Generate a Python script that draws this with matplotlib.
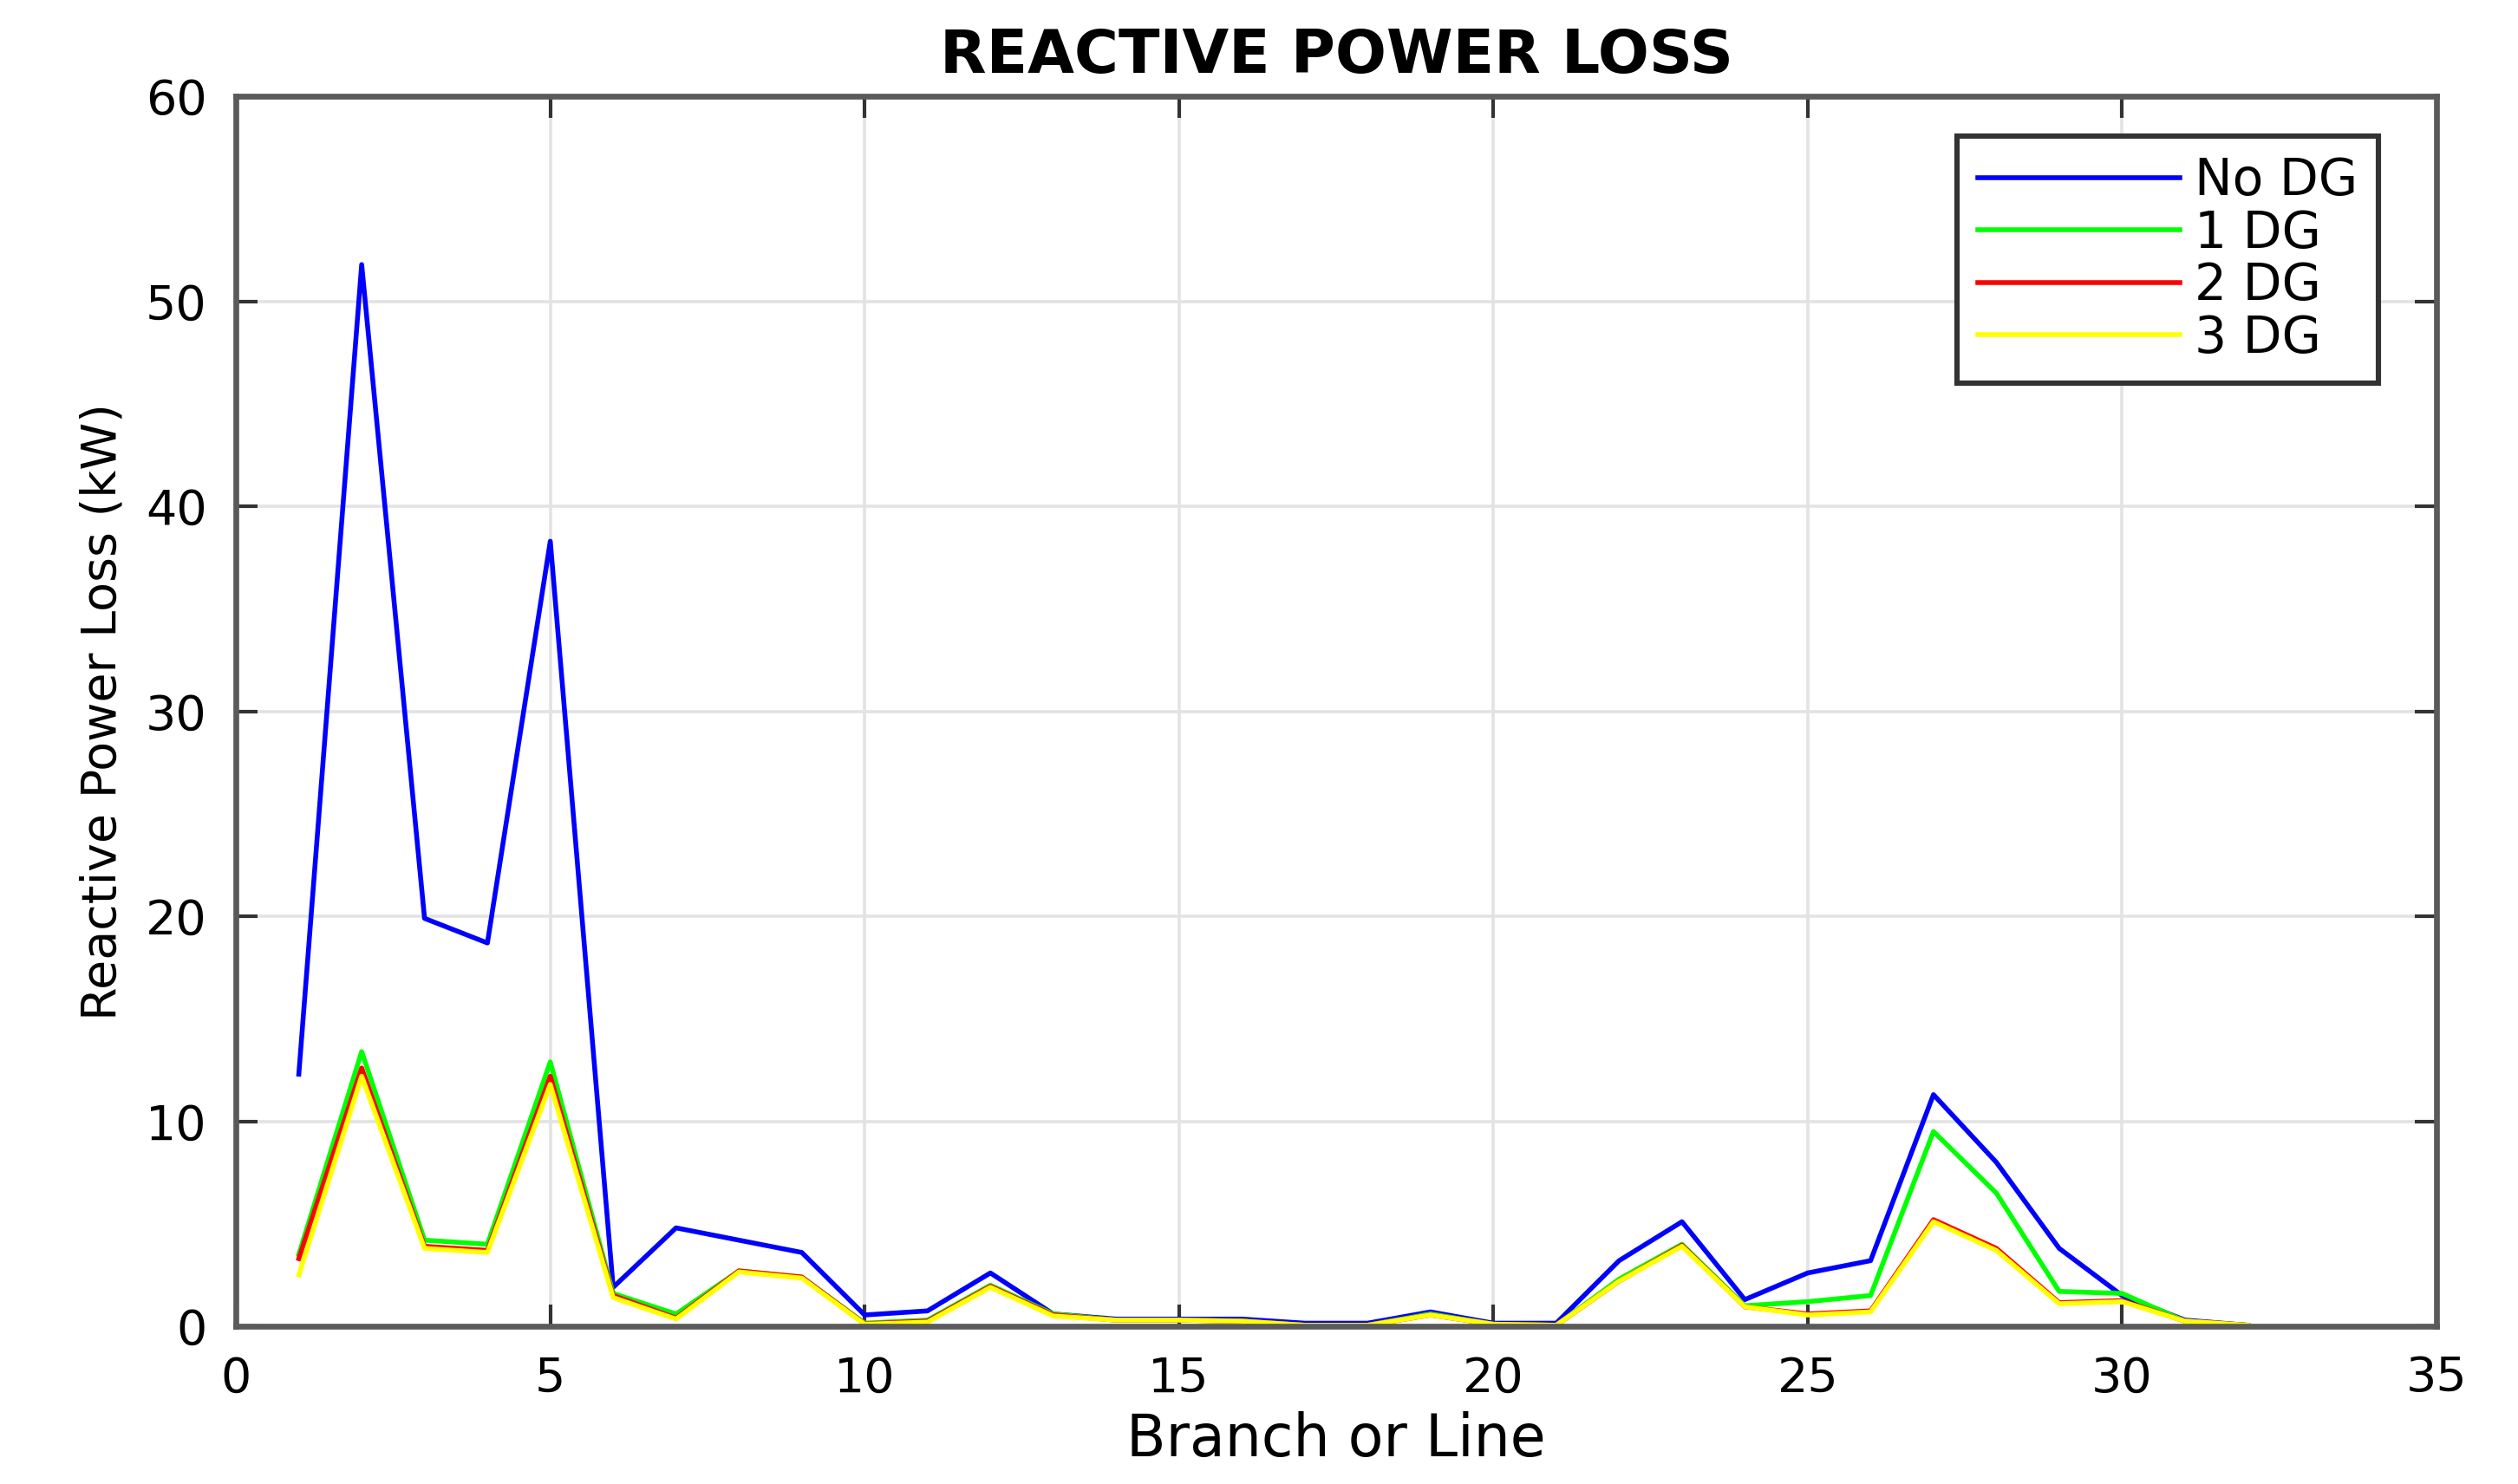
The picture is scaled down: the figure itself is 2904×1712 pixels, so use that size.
import numpy as np
from matplotlib import pyplot as plt

# Branch numbers and reactive power loss (kW) per case
branches = np.arange(1, 33)
no_dg = [12.3, 51.8, 19.9, 18.7, 38.3, 1.9, 4.8, 4.2, 3.6, 0.55, 0.75, 2.6, 0.6, 0.35, 0.35, 0.35,
         0.15, 0.15, 0.7, 0.15, 0.15, 3.2, 5.1, 1.3, 2.6, 3.2, 11.3, 8.0, 3.8, 1.5, 0.3, 0.05]
one_dg = [3.5, 13.4, 4.2, 4.0, 12.9, 1.6, 0.6, 2.7, 2.4, 0.15, 0.3, 2.0, 0.6, 0.3, 0.3, 0.25,
          0.05, 0.05, 0.6, 0.1, 0.05, 2.3, 4.0, 1.0, 1.2, 1.5, 9.5, 6.5, 1.7, 1.6, 0.25, 0.05]
two_dg = [3.3, 12.6, 3.9, 3.7, 12.2, 1.5, 0.4, 2.7, 2.4, 0.12, 0.25, 1.95, 0.55, 0.3, 0.3, 0.25,
          0.05, 0.05, 0.55, 0.1, 0.05, 2.2, 3.95, 0.95, 0.6, 0.75, 5.2, 3.8, 1.15, 1.25, 0.25, 0.05]
three_dg = [2.5, 12.2, 3.8, 3.6, 11.8, 1.4, 0.35, 2.65, 2.35, 0.1, 0.2, 1.9, 0.5, 0.3, 0.3, 0.25,
            0.05, 0.05, 0.55, 0.1, 0.05, 2.2, 3.9, 0.95, 0.55, 0.7, 5.1, 3.7, 1.1, 1.2, 0.25, 0.05]

x_ticks = [0, 5, 10, 15, 20, 25, 30, 35]
y_ticks = [0, 10, 20, 30, 40, 50, 60]

plt.rcParams['font.family'] = ['DejaVu Sans']

fig = plt.figure(figsize=(14.52, 8.56), dpi=200)
ax = fig.add_axes([0.0937, 0.1063, 0.8739, 0.8287])

ax.plot(branches, no_dg, color='#0000ff', linewidth=2.0, label='No DG')
ax.plot(branches, one_dg, color='#00ff00', linewidth=2.0, label='1 DG')
ax.plot(branches, two_dg, color='#ff0000', linewidth=2.0, label='2 DG')
ax.plot(branches, three_dg, color='#ffff00', linewidth=2.0, label='3 DG')

ax.set_xlim(0, 35)
ax.set_ylim(0, 60)
ax.set_xticks(x_ticks)
ax.set_yticks(y_ticks)
ax.grid(True, color='#e3e3e3', linewidth=1.3)
ax.set_axisbelow(True)

for side in ['left', 'right', 'top', 'bottom']:
    ax.spines[side].set_color('#5a5a5a')
    ax.spines[side].set_linewidth(2.4)
ax.tick_params(direction='in', length=9, width=1.5, color='#333333',
               top=True, right=True, labelsize=20, pad=12)

ax.set_title('REACTIVE POWER LOSS', fontsize=25, fontweight='bold', pad=10)
ax.set_xlabel('Branch or Line', fontsize=24, labelpad=4)
ax.set_ylabel('Reactive Power Loss (kW)', fontsize=20, labelpad=8)

leg = ax.legend(loc='upper right', bbox_to_anchor=(0.9736, 0.968), borderaxespad=0,
                fontsize=21, handlelength=4.0, handletextpad=0.3, labelspacing=0.06,
                fancybox=False, framealpha=1, borderpad=0.4)
leg.get_frame().set_edgecolor('#333333')
leg.get_frame().set_linewidth(2.2)

fig.savefig('out.png', dpi=200)
